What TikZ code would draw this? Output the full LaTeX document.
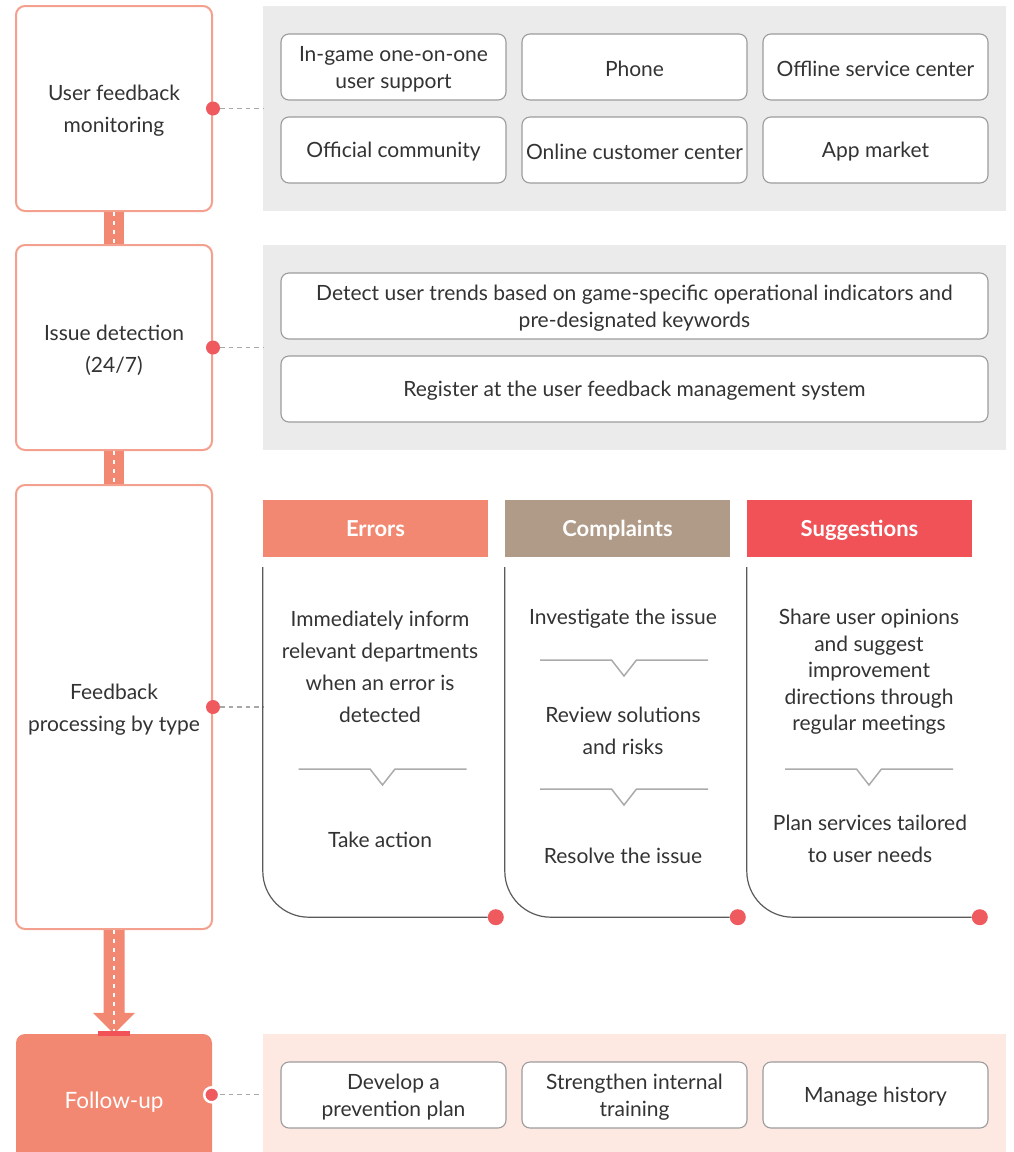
\documentclass[tikz,border=0pt]{standalone}
\usepackage{fontspec}
\setmainfont{Lato}
\usetikzlibrary{arrows.meta,calc}

\definecolor{salmon}{HTML}{F28872}
\definecolor{salmonline}{HTML}{F4A08E}
\definecolor{brownish}{HTML}{B09B89}
\definecolor{redhead}{HTML}{F05258}
\definecolor{reddot}{HTML}{EF5A5F}
\definecolor{panelgrey}{HTML}{EBEBEB}
\definecolor{panelpink}{HTML}{FDE8E2}
\definecolor{boxline}{HTML}{9C9C9C}
\definecolor{ink}{HTML}{333333}
\definecolor{cardgrey}{HTML}{5A5A5A}
\definecolor{divgrey}{HTML}{ABABAB}
\definecolor{dashgrey}{HTML}{A8A8A8}

\tikzset{
  basefont/.style={font=\fontsize{21}{27}\selectfont},
  leftbox/.style={draw=salmonline, line width=2pt, rounded corners=9pt, fill=white,
    minimum width=196pt, align=center, text=ink, inner sep=0pt,
    font=\fontsize{21}{32}\selectfont},
  panel/.style={fill=#1, minimum width=743pt, inner sep=0pt},
  optbox/.style={draw=boxline, line width=1.1pt, rounded corners=8pt, fill=white,
    minimum height=66pt, align=center, text=ink, inner sep=0pt, basefont},
  optlabel/.style={align=center, text=ink, inner sep=0pt, basefont, yshift=-2pt},
  headbox/.style={fill=#1, minimum width=225pt, minimum height=57pt, text=white,
    inner sep=0pt, text height=16pt, text depth=0pt,
    font=\fontsize{22}{26}\selectfont\bfseries},
  cardtext/.style={align=center, text=ink, inner sep=0pt, yshift=-2pt},
  cardline/.style={draw=cardgrey, line width=1.2pt, rounded corners=46pt},
  enddot/.style={circle, fill=reddot, minimum size=16pt, inner sep=0pt},
  sidedot/.style={circle, fill=reddot, minimum size=14pt, inner sep=0pt},
  leader/.style={draw=dashgrey, line width=1.3pt, dash pattern=on 4.5pt off 4pt},
  whitedash/.style={draw=white, line width=1.5pt, dash pattern=on 4pt off 5pt},
  divline/.style={draw=divgrey, line width=1.5pt},
  pics/chevron/.style={code={
    \draw[divline] (-84,0) -- (-12.5,0) -- (0,16) -- (12.5,0) -- (84,0);}}
}

\begin{document}
\begin{tikzpicture}[x=1pt, y=-1pt]
\clip (0,0) rectangle (1014,1152);
\fill[white] (0,0) rectangle (1014,1152);

% ---- step boxes on the left
\node[leftbox, minimum height=205pt] (lb1) at (114,108.5) {};
\node[leftbox, minimum height=205pt] (lb2) at (114,347.5) {};
\node[leftbox, minimum height=444pt] (lb3) at (114,707) {};
\node[leftbox, draw=none, fill=none, minimum height=0pt] (lt1) at ($(lb1.center)+(0,2.5)$) {User feedback\\monitoring};
\node[leftbox, draw=none, fill=none, minimum height=0pt] (lt2) at ($(lb2.center)+(0,2.5)$) {Issue detection\\(24/7)};
\node[leftbox, draw=none, fill=none, minimum height=0pt] (lt3) at ($(lb3.center)+(0,3)$) {Feedback\\processing by type};
\node[fill=salmon, rounded corners=9pt, minimum width=196pt, minimum height=140pt,
      inner sep=0pt] (fu) at (114,1104) {};
\node[text=white, inner sep=0pt, font=\fontsize{22.5}{26}\selectfont]
      at ($(fu.north)+(0,68.5)$) {Follow-up};

% ---- links between the step boxes
\fill[salmon] ($(lb1.south)+(-10,0)$) rectangle ($(lb2.north)+(10,0)$);
\draw[whitedash] (lb1.south) -- (lb2.north);
\fill[salmon] ($(lb2.south)+(-10,0)$) rectangle ($(lb3.north)+(10,0)$);
\draw[whitedash] (lb2.south) -- (lb3.north);
\fill[salmon] ($(lb3.south)+(-10.5,0)$) -- ($(fu.north)+(-10.5,-21)$)
  -- ($(fu.north)+(-21,-21)$) -- (fu.north) -- ($(fu.north)+(21,-21)$)
  -- ($(fu.north)+(10.5,-21)$) -- ($(lb3.south)+(10.5,0)$) -- cycle;
\draw[whitedash] (lb3.south) -- (fu.north);
\fill[redhead] ($(fu.north)+(-16,-3)$) rectangle ($(fu.north)+(16,2.5)$);

% ---- panels on the right
\node[panel=panelgrey, minimum height=205pt] (p1) at (634.5,108.5) {};
\node[panel=panelgrey, minimum height=205pt] (p2) at (634.5,347.5) {};
\node[panel=panelpink, minimum height=140pt] (p4) at (634.5,1104) {};

% channels
\node[optbox, minimum width=225pt] (o1) at (393.5,67) {};
\node[optbox, minimum width=225pt] (o2) at (634.5,67) {};
\node[optbox, minimum width=225pt] (o3) at (875.5,67) {};
\node[optbox, minimum width=225pt] (o4) at (393.5,150) {};
\node[optbox, minimum width=225pt] (o5) at (634.5,150) {};
\node[optbox, minimum width=225pt] (o6) at (875.5,150) {};
\node[optlabel] at (o1) {In-game one-on-one\\user support};
\node[optlabel] at (o2) {Phone};
\node[optlabel] at (o3) {Offline service center};
\node[optlabel] at (o4) {Official community};
\node[optlabel] at (o5) {Online customer center};
\node[optlabel] at (o6) {App market};

% detection
\node[optbox, minimum width=707pt] (q1) at (634.5,306) {};
\node[optbox, minimum width=707pt] (q2) at (634.5,389) {};
\node[optlabel] at (q1)
  {Detect user trends based on game-specific operational indicators and\\pre-designated keywords};
\node[optlabel] at (q2) {Register at the user feedback management system};

% follow-up actions
\node[optbox, minimum width=225pt] (f1) at (393.5,1095) {};
\node[optbox, minimum width=225pt] (f2) at (634.5,1095) {};
\node[optbox, minimum width=225pt] (f3) at (875.5,1095) {};
\node[optlabel] at (f1) {Develop a\\prevention plan};
\node[optlabel] at (f2) {Strengthen internal\\training};
\node[optlabel] at (f3) {Manage history};

% ---- side dots with leaders
\node[sidedot] (d1) at (lb1.east) {};
\node[sidedot] (d2) at (lb2.east) {};
\node[sidedot] (d3) at (lb3.east) {};
\node[circle, fill=reddot, draw=white, line width=2.5pt, minimum size=15pt, inner sep=0pt]
  (d4) at ($(fu.north east)+(-0.5,61)$) {};
\draw[leader] (d1.east) -- (p1.west |- d1);
\draw[leader] (d2.east) -- (p2.west |- d2);
\draw[leader] (d3.east) -- ($(d3)+(51,0)$);
\draw[leader] (d4.east) -- (p4.west |- d4);

% ---- feedback types
\node[headbox=salmon] (h1) at (375.5,528.5) {Errors};
\node[headbox=brownish] (h2) at (617.5,528.5) {Complaints};
\node[headbox=redhead] (h3) at (859.5,528.5) {Suggestions};

\node[enddot] (e1) at ($(h1.south west)+(233,360)$) {};
\node[enddot] (e2) at ($(h2.south west)+(233,360)$) {};
\node[enddot] (e3) at ($(h3.south west)+(233,360)$) {};
\draw[cardline] ($(h1.south west)+(0,10)$) |- (e1.west);
\draw[cardline] ($(h2.south west)+(0,10)$) |- (e2.west);
\draw[cardline] ($(h3.south west)+(0,10)$) |- (e3.west);

\begin{scope}[font=\fontsize{21}{32}\selectfont]
\node[cardtext] (t11) at (380,665) {Immediately inform\\relevant departments\\when an error is\\detected};
\pic at (382.5,769) {chevron};
\node[cardtext] (t12) at (380,838) {Take action};

\node[cardtext] (t21) at (623,617) {Investigate the issue};
\pic at (624,660) {chevron};
\node[cardtext] (t22) at (623,729) {Review solutions\\and risks};
\pic at (624,789) {chevron};
\node[cardtext] (t23) at (623,854) {Resolve the issue};

\node[cardtext, font=\fontsize{21}{26.5}\selectfont] (t31) at (869,670)
  {Share user opinions\\and suggest\\improvement\\directions through\\regular meetings};
\pic at (869,769) {chevron};
\node[cardtext] (t32) at (870,837) {Plan services tailored\\to user needs};
\end{scope}
\end{tikzpicture}
\end{document}
